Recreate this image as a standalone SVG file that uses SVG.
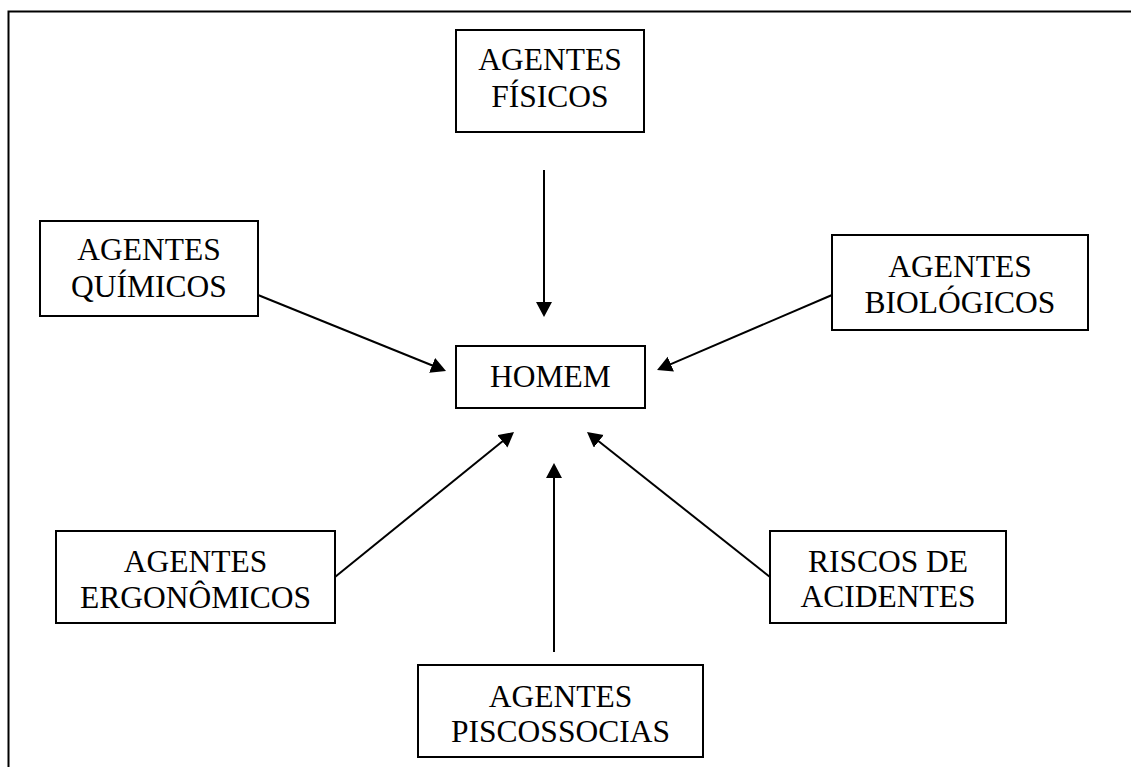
<svg xmlns="http://www.w3.org/2000/svg" width="1131" height="767" viewBox="0 0 1131 767">
<style>
.box{fill:#fff;stroke:#000;stroke-width:2}
.t{font-family:"Liberation Serif","Times New Roman",serif;font-size:31.5px;fill:#000;text-anchor:middle}
.c{stroke:#000;stroke-width:2;fill:none}
</style>
<defs>
<marker id="ah" markerUnits="userSpaceOnUse" markerWidth="16" markerHeight="17" refX="7" refY="8" orient="auto">
<path d="M0,0 L15,8 L0,16 z" fill="#000"/>
</marker>
</defs>
<rect x="0" y="0" width="1131" height="767" fill="#fff"/>
<path d="M8.5,767 V11.5 H1131" fill="none" stroke="#000" stroke-width="2"/>
<g id="connectors">
<line class="c" x1="544" y1="170" x2="544" y2="309" marker-end="url(#ah)"/>
<line class="c" x1="258" y1="295" x2="438.6" y2="368" marker-end="url(#ah)"/>
<line class="c" x1="832" y1="295" x2="664.4" y2="366.9" marker-end="url(#ah)"/>
<line class="c" x1="335" y1="577" x2="507.8" y2="437" marker-end="url(#ah)"/>
<line class="c" x1="554" y1="652" x2="554" y2="471" marker-end="url(#ah)"/>
<line class="c" x1="770" y1="577" x2="593.3" y2="437" marker-end="url(#ah)"/>
</g>
<g id="fisicos">
<rect class="box" x="456" y="30" width="188" height="102"/>
<text class="t" x="550" y="70">AGENTES</text>
<text class="t" x="550" y="107">FÍSICOS</text>
</g>
<g id="quimicos">
<rect class="box" x="40" y="221" width="218" height="95"/>
<text class="t" x="149" y="260">AGENTES</text>
<text class="t" x="149" y="297">QUÍMICOS</text>
</g>
<g id="biologicos">
<rect class="box" x="832" y="235" width="256" height="95"/>
<text class="t" x="960" y="277">AGENTES</text>
<text class="t" x="960" y="313">BIOLÓGICOS</text>
</g>
<g id="homem">
<rect class="box" x="456" y="346" width="189" height="62"/>
<text class="t" x="550.5" y="387">HOMEM</text>
</g>
<g id="ergonomicos">
<rect class="box" x="56" y="531" width="279" height="92"/>
<text class="t" x="195.5" y="572">AGENTES</text>
<text class="t" x="195.5" y="608">ERGONÔMICOS</text>
</g>
<g id="riscos">
<rect class="box" x="770" y="531" width="236" height="92"/>
<text class="t" x="888" y="572">RISCOS DE</text>
<text class="t" x="888" y="607">ACIDENTES</text>
</g>
<g id="psicossocias">
<rect class="box" x="418" y="665" width="285" height="92"/>
<text class="t" x="560.5" y="707">AGENTES</text>
<text class="t" x="560.5" y="742">PISCOSSOCIAS</text>
</g>
</svg>
